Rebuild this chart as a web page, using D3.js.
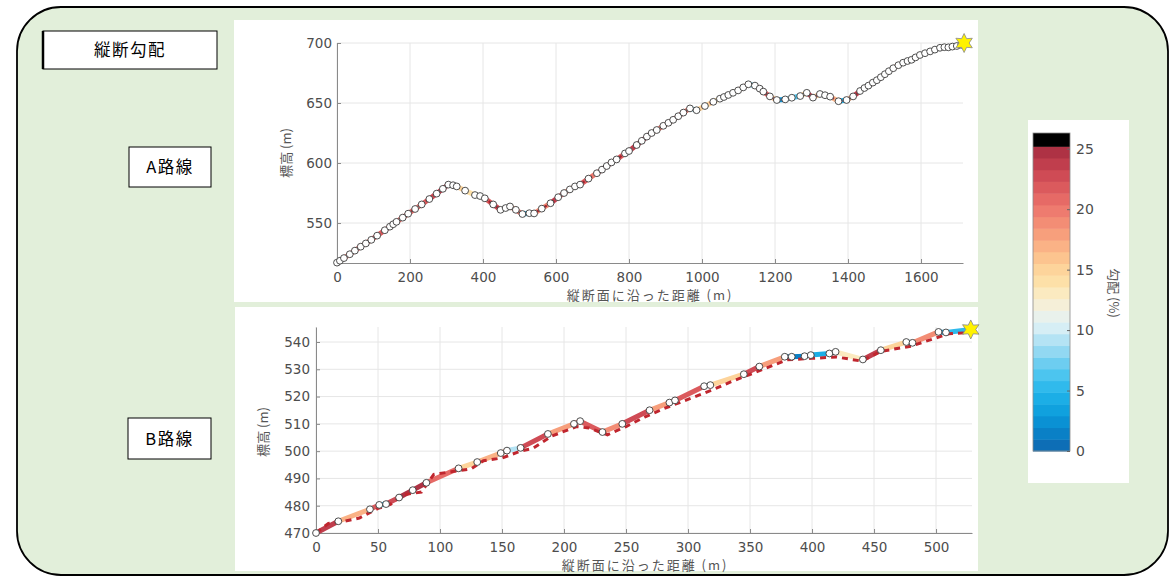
<!DOCTYPE html>
<html lang="ja">
<head>
<meta charset="UTF-8">
<title>縦断勾配</title>
<script src="https://d3js.org/d3.v7.min.js"></script>
<style>
  body { margin: 0; background: #fff; }
  svg { display: block; }
  .tick text { font-family: "DejaVu Sans", sans-serif; fill: #4d4d4d; }
  .cjk { font-family: "Noto Sans CJK JP", sans-serif; }
</style>
</head>
<body>
<svg width="1169" height="577"></svg>
<script>
// --- data (distance m, elevation m) ---
const routeA = [
  [0,517],[8,518.6],[19,520.8],[35,524],[49,527],[65,530.3],[79,533],[94,536],[110,539.5],[131,544],
  [145,547],[154,549],[163,551],[180,554.5],[195,557.8],[214,561.7],[232,565.5],[253,570],[273,574.5],[290,578.5],
  [305,582],[318,581.5],[328,580.5],[351,577],[378,573.3],[392,572.5],[405,570.6],[428,565.5],[448,561],[462,562.5],
  [474,563.8],[490,561],[508,557.5],[527,558.2],[540,558],[561,562],[585,566.5],[606,571.5],[622,575],[638,578],
  [652,580.5],[666,582],[689,587],[712,591.5],[726,594.5],[739,597.5],[752,600.5],[766,603],[789,608],[800,610],
  [821,615],[835,618.5],[849,622],[862,625],[876,627.5],[894,631],[908,633.5],[921,636],[935,639],[949,642],
  [967,645.5],[985,644],[1008,647.5],[1031,651],[1049,653.6],[1060,655],[1072,656.7],[1085,658.5],[1099,660.5],[1113,663],
  [1127,665.6],[1145,664.5],[1158,662],[1168,659.5],[1186,655.5],[1205,652.5],[1228,653],[1246,654.4],[1269,655.8],[1287,658.5],
  [1304,654.5],[1323,657.5],[1337,656.5],[1351,655.3],[1374,651.5],[1396,652.5],[1414,655.5],[1433,660],[1445,662.5],[1456,664.5],
  [1468,667],[1479,669],[1490,671.5],[1501,674],[1512,676.5],[1524,679],[1538,681.5],[1551,683.6],[1563,685],[1574,686],
  [1585,688],[1597,690],[1611,691.5],[1625,693],[1638,694.5],[1652,696],[1664,696.5],[1675,696.4],[1686,697],[1698,697.5],
  [1710,698.5]
];
const goalA = [1718, 700];

const routeB = [
  [0,470],[18,474.3],[43.5,478.7],[51,480.3],[56.5,480.6],[67,483],[78,485.7],[89,488.4],[115,493.7],[130,496],
  [149,499.3],[154,500.2],[165,501.2],[187,506.3],[208,510],[213,511],[231,507],[247,510],[269,515],[285,517.8],
  [289.5,518.6],[313,523.8],[318,524.2],[345,528.2],[357.5,531],[378,534.6],[383.6,534.6],[394,534.8],[399,535.2],[414,535.8],
  [419,536.4],[441,533.6],[455.5,537],[476,540],[481,539.7],[502,543.7],[508,543.5]
];
const routeBRef = [
  [0,470],[10,473.5],[20,474],[35,475.5],[50,479],[60,480.5],[70,484],[85,485],[95,491.5],[110,492.5],
  [125,493.5],[135,496.5],[150,497.5],[165,500],[175,501],[190,505.5],[210,509],[220,508.5],[235,506],[250,509],
  [265,512.5],[280,515.5],[300,519],[320,522.5],[335,525.5],[355,529],[380,533.5],[400,534],[420,534.5],[440,533],
  [455,536.5],[480,538.5],[500,541.5],[510,543],[528,543.5]
];
const goalB = [528, 544.6];

const xTicksA = [0,200,400,600,800,1000,1200,1400,1600];
const yTicksA = [550,600,650,700];
const xTicksB = [0,50,100,150,200,250,300,350,400,450,500];
const yTicksB = [470,480,490,500,510,520,530,540];
const gradeTicks = [0,5,10,15,20,25];

// colormap bands 0..25.2 %, black above
const gradeColors = [
  "#0d6eb6","#0a80c6","#0a91d4","#10a1de","#1caee6","#30baec","#4cc5ef","#6dcdf0","#92d8f2","#b4e3f4",
  "#d6eef5","#e9f1ec","#f5efd8","#fbeac0","#fde0a8","#fdd49b","#fcc48f","#fab286","#f79f7c","#f38d75",
  "#ee7b6f","#e66a66","#db5a5d","#cf4b55","#c03e4d","#ae3244"
];
const gradeMax = 25.2;
const gradeTop = 26.3;
const gradeScale = d3.scaleQuantize().domain([0, gradeMax]).range(gradeColors);
const gradeColor = g => g >= gradeMax ? "#000" : gradeScale(g);

const svg = d3.select("svg");

// outer frame
svg.append("rect")
  .attr("x", 17).attr("y", 7).attr("width", 1151).attr("height", 568).attr("rx", 44)
  .attr("fill", "#e2efda").attr("stroke", "#000").attr("stroke-width", 1.8);

// label boxes
function labelBox(x, y, w, h, text, thickLeft) {
  svg.append("rect").attr("x", x).attr("y", y).attr("width", w).attr("height", h)
    .attr("fill", "#fff").attr("stroke", "#000").attr("stroke-width", 1);
  if (thickLeft) {
    svg.append("line").attr("x1", x).attr("x2", x).attr("y1", y).attr("y2", y + h)
      .attr("stroke", "#000").attr("stroke-width", 2.5);
  }
  svg.append("text").attr("class", "cjk")
    .attr("x", x + w / 2).attr("y", y + h / 2 + 6)
    .attr("text-anchor", "middle").attr("font-size", 16.5).attr("letter-spacing", 1.5)
    .attr("fill", "#000").text(text);
}
labelBox(43, 31, 174, 38, "縦断勾配", true);
labelBox(129, 147, 82, 40, "A路線");
labelBox(128, 418, 83, 41, "B路線");

const starPath = d3.lineRadial()
  .angle((d, i) => i * Math.PI / 6)
  .radius((d, i) => i % 2 ? 5 : 9.5)
  .curve(d3.curveLinearClosed)(d3.range(12));

function profile(o) {
  const g = svg.append("g");
  g.append("rect").attr("x", o.panel[0]).attr("y", o.panel[1])
    .attr("width", o.panel[2]).attr("height", o.panel[3]).attr("fill", "#fff");

  const x = d3.scaleLinear().domain(o.xDom).range(o.xRange);
  const y = d3.scaleLinear().domain(o.yDom).range(o.yRange);

  // grid
  g.selectAll(".gx").data(o.xTicks).join("line")
    .attr("x1", d => x(d)).attr("x2", d => x(d))
    .attr("y1", o.yRange[0]).attr("y2", o.yRange[1])
    .attr("stroke", "#e6e6e6");
  g.selectAll(".gy").data(o.yTicks).join("line")
    .attr("x1", o.xRange[0]).attr("x2", o.xRange[1])
    .attr("y1", d => y(d)).attr("y2", d => y(d))
    .attr("stroke", "#e6e6e6");

  const ax = g.append("g").attr("transform", `translate(0,${o.yRange[0]})`)
    .call(d3.axisBottom(x).tickValues(o.xTicks).tickFormat(d3.format("d"))
      .tickSize(-4).tickSizeOuter(0).tickPadding(o.xPad));
  const ay = g.append("g").attr("transform", `translate(${o.xRange[0]},0)`)
    .call(d3.axisLeft(y).tickValues(o.yTicks).tickFormat(d3.format("d"))
      .tickSize(-4).tickSizeOuter(0).tickPadding(o.yPad));
  [ax, ay].forEach(a => {
    a.select(".domain").attr("stroke", "#8a8a8a");
    a.selectAll(".tick line").attr("stroke", "#8a8a8a");
    a.selectAll(".tick text").attr("font-size", o.fs);
  });

  // labels
  g.append("text").attr("class", "cjk")
    .attr("x", o.xLab[0]).attr("y", o.xLab[1]).attr("text-anchor", "middle")
    .attr("font-size", 13).attr("letter-spacing", 2).attr("fill", "#555")
    .text("縦断面に沿った距離 (m)");
  g.append("text").attr("class", "cjk")
    .attr("transform", `translate(${o.yLab[0]},${o.yLab[1]}) rotate(-90)`)
    .attr("text-anchor", "middle").attr("font-size", 13).attr("fill", "#555")
    .text("標高 (m)");

  // gradient-coloured segments (route up to the goal)
  const path = o.data.concat([o.goal]);
  g.selectAll(".seg").data(d3.pairs(path)).join("line")
    .attr("x1", d => x(d[0][0])).attr("y1", d => y(d[0][1]))
    .attr("x2", d => x(d[1][0])).attr("y2", d => y(d[1][1]))
    .attr("stroke", d => gradeColor(Math.abs(d[1][1] - d[0][1]) / (d[1][0] - d[0][0]) * 100))
    .attr("stroke-width", o.lw).attr("stroke-linecap", "round");

  // dashed reference line
  g.append("path").datum(o.ref)
    .attr("d", d3.line().x(d => x(d[0])).y(d => y(d[1])))
    .attr("fill", "none").attr("stroke", o.refColor).attr("stroke-width", o.refW)
    .attr("stroke-dasharray", o.dash);

  // observation points
  g.selectAll(".pt").data(o.data).join("circle")
    .attr("cx", d => x(d[0])).attr("cy", d => y(d[1])).attr("r", 3.4)
    .attr("fill", "#fff").attr("stroke", "#3a3a3a").attr("stroke-width", 0.9);

  // goal star
  g.append("path").attr("d", starPath)
    .attr("transform", `translate(${x(o.goal[0])},${y(o.goal[1])})`)
    .attr("fill", "#fff200").attr("stroke", "#888").attr("stroke-width", 0.8);
}

profile({
  panel: [234, 20, 744, 282],
  data: routeA, ref: routeA, goal: goalA,
  xDom: [0, 1715], xRange: [337, 963],
  yDom: [516.7, 700], yRange: [263, 43],
  xTicks: xTicksA, yTicks: yTicksA,
  xPad: 9, yPad: 5, fs: 13.5,
  xLab: [650, 300], yLab: [291, 153],
  lw: 5, refColor: "#a9202c", refW: 2.2, dash: "3,6"
});

profile({
  panel: [235, 307, 743, 264],
  data: routeB, ref: routeBRef, goal: goalB,
  xDom: [0, 529], xRange: [316, 972],
  yDom: [470, 545.5], yRange: [533, 327],
  xTicks: xTicksB, yTicks: yTicksB,
  xPad: 9, yPad: 6, fs: 13.5,
  xLab: [645, 570], yLab: [268, 432],
  lw: 5, refColor: "#c0262e", refW: 3, dash: "6,5"
});

// colour bar
svg.append("rect").attr("x", 1028).attr("y", 120).attr("width", 101).attr("height", 363).attr("fill", "#fff");
const cy = d3.scaleLinear().domain([0, gradeTop]).range([451, 133]);
const bandW = gradeMax / gradeColors.length;
const bands = gradeColors.map((c, i) => ({ lo: i * bandW, hi: (i + 1) * bandW, c }));
bands.push({ lo: gradeMax, hi: gradeTop, c: "#000" });
svg.selectAll(".band").data(bands).join("rect")
  .attr("x", 1033).attr("width", 37)
  .attr("y", d => cy(d.hi)).attr("height", d => cy(d.lo) - cy(d.hi) + 0.5)
  .attr("fill", d => d.c);
svg.append("rect").attr("x", 1033).attr("y", 133).attr("width", 37).attr("height", 318)
  .attr("fill", "none").attr("stroke", "#8a8a8a").attr("stroke-width", 0.8);
const cax = svg.append("g").attr("transform", "translate(1070,0)")
  .call(d3.axisRight(cy).tickValues(gradeTicks).tickSize(-3).tickSizeOuter(0).tickPadding(6));
cax.select(".domain").remove();
cax.selectAll(".tick line").attr("stroke", "#666");
cax.selectAll(".tick text").attr("font-size", 14);
svg.append("text").attr("class", "cjk")
  .attr("transform", "translate(1109,293) rotate(90)")
  .attr("text-anchor", "middle").attr("font-size", 13).attr("fill", "#555")
  .text("勾配 (%)");
</script>
</body>
</html>
